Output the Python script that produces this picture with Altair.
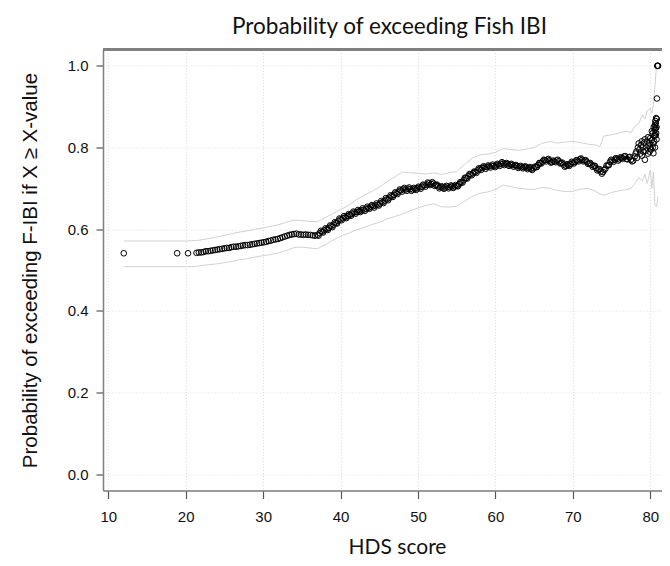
import altair as alt
import pandas as pd

# ---- data ----
pt_x = [12.0, 18.9, 20.3,
        21.4, 21.7, 22.0, 22.3, 22.6, 22.9, 23.2, 23.5, 23.8, 24.1, 24.4, 24.7, 25.0, 25.3, 25.6, 25.9,
        26.2, 26.5, 26.8, 27.1, 27.4, 27.7, 28.0, 28.3, 28.6, 28.9, 29.2, 29.5, 29.8, 30.1, 30.4, 30.7,
        31.0, 31.3, 31.6, 31.9, 32.2, 32.5, 32.8, 33.1, 33.4, 33.7, 34.0, 34.3, 34.6, 34.9, 35.2, 35.5,
        35.8, 36.1, 36.4, 36.7, 37.0, 37.3, 37.6, 37.9, 38.2, 38.5, 38.8, 39.1, 39.4, 39.7, 40.0, 40.3,
        40.6, 40.9, 41.2, 41.5, 41.8, 42.1, 42.4, 42.7, 43.0, 43.3, 43.6, 43.9, 44.2, 44.5, 44.8, 45.1,
        45.4, 45.7, 46.0, 46.3, 46.6, 46.9, 47.2, 47.5, 47.8, 48.1, 48.4, 48.7, 49.0, 49.3, 49.6, 49.9,
        50.2, 50.5, 50.8, 51.1, 51.4, 51.7, 52.0, 52.3, 52.6, 52.9, 53.2, 53.5, 53.8, 54.1, 54.4, 54.7,
        55.0, 55.3, 55.6, 55.9, 56.2, 56.5, 56.8, 57.1, 57.4, 57.7, 58.0, 58.3, 58.6, 58.9, 59.2, 59.5,
        59.8, 60.1, 60.4, 60.7, 61.0, 61.3, 61.6, 61.9, 62.2, 62.5, 62.8, 63.1, 63.4, 63.7, 64.0, 64.3,
        64.6, 64.9, 65.2, 65.5, 65.8, 66.1, 66.4, 66.7, 67.0, 67.3, 67.6, 67.9, 68.2, 68.5, 68.8, 69.1,
        69.4, 69.7, 70.0, 70.3, 70.6, 70.9, 71.2, 71.5, 71.8, 72.1, 72.4, 72.7, 73.0, 73.3, 73.6, 73.9,
        74.2, 74.5, 74.8, 75.1, 75.4, 75.7, 76.0, 76.3, 76.6, 76.9, 77.2, 77.5, 77.8, 78.0, 78.2, 78.4,
        78.6, 78.8, 79.0, 79.2, 79.4, 79.6, 79.8, 80.0, 80.1, 80.2, 80.3, 80.4, 80.5, 80.55, 80.6, 80.65,
        80.7, 80.75, 80.8, 80.85, 80.9, 80.95, 81.0, 80.4, 79.7, 79.9, 80.6, 80.7, 78.9, 79.3]
pt_y = [0.541, 0.541, 0.541,
        0.542, 0.543, 0.543, 0.544, 0.546, 0.546, 0.547, 0.548, 0.549, 0.550, 0.551, 0.552, 0.553, 0.554, 0.554, 0.556,
        0.557, 0.557, 0.558, 0.559, 0.560, 0.561, 0.561, 0.562, 0.563, 0.564, 0.565, 0.566, 0.567, 0.568, 0.569, 0.571,
        0.572, 0.574, 0.575, 0.576, 0.578, 0.580, 0.582, 0.584, 0.586, 0.587, 0.588, 0.589, 0.587, 0.587, 0.586, 0.587,
        0.586, 0.586, 0.585, 0.584, 0.586, 0.590, 0.594, 0.597, 0.600, 0.603, 0.607, 0.611, 0.615, 0.620, 0.624, 0.627,
        0.629, 0.632, 0.635, 0.638, 0.641, 0.642, 0.644, 0.646, 0.648, 0.650, 0.652, 0.655, 0.656, 0.658, 0.660, 0.663,
        0.666, 0.670, 0.673, 0.677, 0.681, 0.684, 0.688, 0.692, 0.695, 0.698, 0.697, 0.699, 0.698, 0.697, 0.699, 0.700,
        0.702, 0.704, 0.707, 0.709, 0.712, 0.711, 0.712, 0.708, 0.705, 0.703, 0.702, 0.702, 0.704, 0.703, 0.705, 0.704,
        0.706, 0.710, 0.715, 0.720, 0.725, 0.730, 0.734, 0.737, 0.740, 0.744, 0.748, 0.750, 0.752, 0.752, 0.754, 0.755,
        0.755, 0.756, 0.758, 0.760, 0.761, 0.760, 0.759, 0.758, 0.757, 0.756, 0.754, 0.753, 0.752, 0.752, 0.751, 0.750,
        0.748, 0.749, 0.752, 0.757, 0.762, 0.766, 0.769, 0.770, 0.768, 0.764, 0.766, 0.768, 0.766, 0.762, 0.758, 0.755,
        0.757, 0.760, 0.763, 0.765, 0.768, 0.771, 0.770, 0.768, 0.765, 0.761, 0.758, 0.755, 0.750, 0.746, 0.741, 0.740,
        0.748, 0.756, 0.765, 0.768, 0.770, 0.772, 0.771, 0.775, 0.778, 0.772, 0.776, 0.770, 0.768, 0.778, 0.790, 0.800,
        0.795, 0.806, 0.800, 0.812, 0.792, 0.815, 0.805, 0.823, 0.795, 0.818, 0.835, 0.810, 0.828, 0.842, 0.855, 0.865,
        0.848, 0.872, 0.820, 0.920, 1.000, 1.000, 1.000, 0.786, 0.785, 0.790, 0.800, 0.830, 0.780, 0.770]

# second, interleaved set of sites (the thick part of the cloud)
pt2_x = [37.15, 37.45, 37.75, 38.05, 38.35, 38.65, 38.95, 39.25, 39.55, 39.85, 40.15, 40.45, 40.75, 41.05,
         41.35, 41.65, 41.95, 42.25, 42.55, 42.85, 43.15, 43.45, 43.75, 44.05, 44.35, 44.65, 44.95, 45.25,
         45.55, 45.85, 46.15, 46.45, 46.75, 47.05, 47.35, 47.65, 47.95, 48.25, 48.55, 48.85, 49.15, 49.45,
         49.75, 50.05, 50.35, 50.65, 50.95, 51.25, 51.55, 51.85, 52.15, 52.45, 52.75, 53.05, 53.35, 53.65,
         53.95, 54.25, 54.55, 54.85, 55.15, 55.45, 55.75, 56.05, 56.35, 56.65, 56.95, 57.25, 57.55, 57.85,
         58.15, 58.45, 58.75, 59.05, 59.35, 59.65, 59.95, 60.25, 60.55, 60.85, 61.15, 61.45, 61.75, 62.05,
         62.35, 62.65, 62.95, 63.25, 63.55, 63.85, 64.15, 64.45, 64.75, 65.05, 65.35, 65.65, 65.95, 66.25,
         66.55, 66.85, 67.15, 67.45, 67.75, 68.05, 68.35, 68.65, 68.95, 69.25, 69.55, 69.85, 70.15, 70.45,
         70.75, 71.05, 71.35, 71.65, 71.95, 72.25, 72.55, 72.85, 73.15, 73.45, 73.75, 74.05, 74.35, 74.65,
         74.95, 75.25, 75.55, 75.85, 76.15, 76.45, 76.75, 77.05, 77.35, 77.65,
         78.1, 78.3, 78.5, 78.7, 78.9, 79.1, 79.3, 79.5, 79.7, 79.9, 80.0, 80.2, 80.3, 80.45, 80.5, 80.6,
         80.65, 80.7, 80.75, 80.8, 80.85]
pt2_y = [0.584, 0.596, 0.592, 0.602, 0.598, 0.609, 0.605, 0.617, 0.614, 0.626, 0.622, 0.632, 0.627, 0.637,
         0.633, 0.643, 0.638, 0.647, 0.642, 0.651, 0.645, 0.655, 0.650, 0.659, 0.653, 0.663, 0.658, 0.669,
         0.664, 0.676, 0.671, 0.683, 0.679, 0.690, 0.686, 0.697, 0.692, 0.701, 0.694, 0.702, 0.694, 0.701,
         0.696, 0.704, 0.699, 0.709, 0.704, 0.714, 0.708, 0.715, 0.706, 0.709, 0.700, 0.705, 0.699, 0.706,
         0.700, 0.707, 0.701, 0.708, 0.705, 0.715, 0.714, 0.726, 0.724, 0.735, 0.732, 0.741, 0.738, 0.749,
         0.745, 0.754, 0.748, 0.756, 0.751, 0.758, 0.752, 0.760, 0.755, 0.764, 0.757, 0.762, 0.755, 0.760,
         0.753, 0.757, 0.750, 0.755, 0.749, 0.754, 0.747, 0.752, 0.745, 0.753, 0.752, 0.762, 0.761, 0.770,
         0.766, 0.772, 0.763, 0.768, 0.764, 0.770, 0.761, 0.763, 0.753, 0.759, 0.755, 0.765, 0.761, 0.769,
         0.766, 0.773, 0.766, 0.769, 0.760, 0.762, 0.753, 0.755, 0.744, 0.747, 0.736, 0.745, 0.756, 0.757,
         0.770, 0.765, 0.774, 0.768, 0.776, 0.773, 0.779, 0.771, 0.777, 0.766,
         0.785, 0.775, 0.810, 0.785, 0.815, 0.790, 0.820, 0.800, 0.825, 0.810, 0.800, 0.840, 0.800, 0.850,
         0.815, 0.830, 0.845, 0.860, 0.835, 0.850, 0.870]

band_x = [12.0, 20.2, 20.8, 21.4, 22.0, 23.0, 24.0, 25.0, 26.0, 27.0, 28.0, 29.0, 30.0, 31.0, 32.0, 33.0,
          34.0, 35.0, 36.0, 37.0, 38.0, 39.0, 40.0, 41.0, 42.0, 43.0, 44.0, 45.0, 46.0, 47.0, 48.0, 49.0,
          50.0, 51.0, 52.0, 53.0, 54.0, 55.0, 56.0, 57.0, 58.0, 59.0, 60.0, 61.0, 62.0, 63.0, 64.0, 65.0,
          66.0, 67.0, 68.0, 69.0, 70.0, 71.0, 72.0, 73.0, 73.5, 74.0, 75.0, 76.0, 77.0, 77.5, 78.0, 78.5,
          79.0, 79.3, 79.6, 80.0, 80.2, 80.4, 80.6, 80.8, 81.0]
band_upper = [0.571, 0.571, 0.572, 0.572, 0.574, 0.577, 0.581, 0.585, 0.589, 0.593, 0.596, 0.600, 0.603, 0.607, 0.611, 0.617,
              0.622, 0.621, 0.619, 0.618, 0.628, 0.638, 0.648, 0.658, 0.672, 0.682, 0.692, 0.703, 0.716, 0.728, 0.740, 0.738,
              0.737, 0.735, 0.738, 0.734, 0.738, 0.741, 0.758, 0.774, 0.782, 0.784, 0.788, 0.797, 0.795, 0.793, 0.796, 0.800,
              0.810, 0.815, 0.811, 0.813, 0.815, 0.812, 0.808, 0.806, 0.802, 0.828, 0.831, 0.836, 0.840, 0.836, 0.852, 0.858,
              0.880, 0.870, 0.890, 0.896, 0.884, 0.905, 0.950, 1.000, 1.000]
band_lower = [0.508, 0.508, 0.508, 0.509, 0.511, 0.513, 0.515, 0.518, 0.521, 0.525, 0.528, 0.532, 0.535, 0.538, 0.542, 0.548,
              0.555, 0.556, 0.554, 0.552, 0.562, 0.573, 0.583, 0.590, 0.598, 0.604, 0.611, 0.617, 0.625, 0.631, 0.637, 0.645,
              0.652, 0.658, 0.662, 0.655, 0.654, 0.656, 0.668, 0.680, 0.688, 0.691, 0.697, 0.708, 0.704, 0.700, 0.698, 0.697,
              0.702, 0.700, 0.695, 0.692, 0.693, 0.698, 0.700, 0.692, 0.686, 0.683, 0.690, 0.694, 0.697, 0.700, 0.712, 0.726,
              0.718, 0.735, 0.712, 0.745, 0.700, 0.740, 0.660, 0.655, 0.680]

x_ticks = [10, 20, 30, 40, 50, 60, 70, 80]
y_ticks = [0.0, 0.2, 0.4, 0.6, 0.8, 1.0]

points = pd.DataFrame({"hds": pt_x + pt2_x, "prob": pt_y + pt2_y})
n = len(band_x)
bands = pd.DataFrame({
    "hds": band_x + band_x,
    "prob": band_upper + band_lower,
    "bound": ["upper"] * n + ["lower"] * n,
})

W, H = 559, 441
AXIS_GRAY = "#808080"
GRID = "#dcdcdc"

xscale = alt.Scale(domain=[9.32, 81.51], nice=False, zero=False)
yscale = alt.Scale(domain=[-0.04, 1.04], nice=False, zero=False)

x_axis = alt.Axis(
    title="HDS score", values=x_ticks, format="d",
    grid=True, gridColor=GRID, gridDash=[1, 2], gridWidth=1,
    domainColor=AXIS_GRAY, domainWidth=1.5,
    tickColor="#555555", tickSize=8, tickWidth=1.2,
    labelFont="Liberation Sans", labelFontSize=15, labelColor="#111111",
    labelPadding=11, labelFlush=False,
    titleFont="Lato", titleFontSize=21, titleFontWeight="normal", titleColor="#111111",
    titleBaseline="alphabetic", titleY=63, titleX=294,
)
y_axis = alt.Axis(
    title="Probability of exceeding F-IBI if X \u2265 X-value", values=y_ticks, format=".1f",
    grid=True, gridColor=GRID, gridDash=[1, 2], gridWidth=1,
    domainColor=AXIS_GRAY, domainWidth=1.5,
    tickColor="#555555", tickSize=7, tickWidth=1.2,
    labelFont="Liberation Sans", labelFontSize=15, labelColor="#111111",
    labelPadding=8, labelFlush=False,
    titleFont="Liberation Sans", titleFontSize=20.5, titleFontWeight="normal", titleColor="#111111",
    titleAngle=270, titleBaseline="middle", titleX=-73,
)

band_layer = alt.Chart(bands).mark_line(color="#d2d2d2", strokeWidth=1).encode(
    x=alt.X("hds:Q", scale=xscale, axis=x_axis),
    y=alt.Y("prob:Q", scale=yscale, axis=y_axis),
    detail="bound:N",
    order="hds:Q",
)

point_layer = alt.Chart(points).mark_point(
    shape="circle", filled=False, size=32, color="#000000", strokeWidth=1.0, opacity=1
).encode(
    x=alt.X("hds:Q", scale=xscale),
    y=alt.Y("prob:Q", scale=yscale),
)

top_border = alt.Chart(points).mark_rule(color=AXIS_GRAY, strokeWidth=1.5).encode(
    x=alt.value(0), x2=alt.value(W), y=alt.value(0)
)

chart = alt.layer(band_layer, point_layer, top_border).properties(
    width=W, height=H,
    title=alt.TitleParams(
        "Probability of exceeding Fish IBI", font="Lato", fontSize=22.5, fontWeight="normal",
        color="#111111", anchor="middle", frame="group", offset=10, dx=7,
    ),
    autosize=alt.AutoSizeParams(type="none"),
    padding={"left": 95, "top": 41.5, "right": 0, "bottom": 66},
).configure_view(stroke=None).configure(background="white")

chart.save("out.html", embed_options={"renderer": "svg", "actions": False})
